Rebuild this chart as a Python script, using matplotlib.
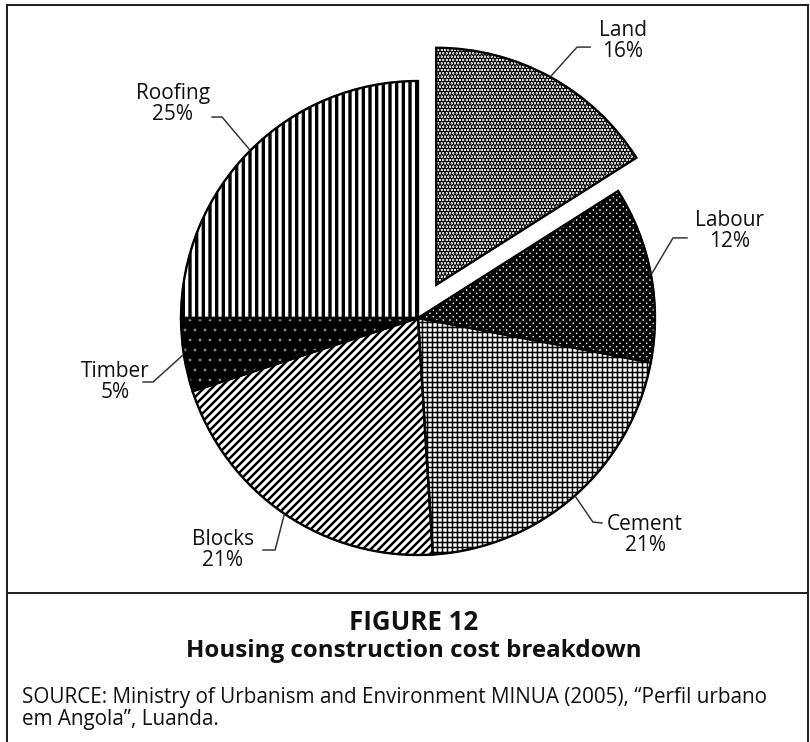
import matplotlib
matplotlib.use("Agg")
import matplotlib.pyplot as plt
from matplotlib.patches import Wedge
from matplotlib.lines import Line2D
import numpy as np

# ---- data ----
categories = ["Land", "Labour", "Cement", "Blocks", "Timber", "Roofing"]
shares = [16, 12, 21, 21, 5, 25]
pct_labels = ["16%", "12%", "21%", "21%", "5%", "25%"]
explode = [0.16, 0, 0, 0, 0, 0]

# ---- styles ----
hatches = ["......", "xxxxxx", "++++", "/////", "..", "|||"]
faces = ["white", "white", "white", "white", "black", "white"]
hatch_cols = ["black", "black", "black", "black", "#8a8a8a", "black"]
hatch_lws = [2.0, 1.9, 0.9, 1.5, 0.5, 2.0]

# label layout (data coords, pie radius = 1)
label_xy = [(0.865, 1.167), (1.316, 0.367), (0.958, -0.914), (-0.823, -0.979), (-1.278, -0.270), (-1.034, 0.903)]
elbow_xy = [(0.671, 1.143), (1.076, 0.338), (0.738, -0.861), (-0.603, -0.979), (-1.118, -0.270), (-0.827, 0.848)]
end_xy = [(0.726, 1.143), (1.135, 0.338), (0.776, -0.865), (-0.654, -0.979), (-1.160, -0.270), (-0.869, 0.848)]

W, H, DPI = 810, 742, 120
fig = plt.figure(figsize=(W / DPI, H / DPI), dpi=DPI)
fig.patch.set_facecolor("white")

cx, cy, R = 418, 318, 237
lim = 1.25
side = 2 * lim * R
ax = fig.add_axes([(cx - side / 2) / W, (H - cy - side / 2) / H, side / W, side / H])

wedges, _ = ax.pie(shares, explode=explode, startangle=90, counterclock=False,
                   wedgeprops=dict(linewidth=0.8))
ax.set_xlim(-lim, lim)
ax.set_ylim(-lim, lim)
ax.set_aspect("equal")
ax.axis("off")

for w, h, fc, hc, hlw in zip(wedges, hatches, faces, hatch_cols, hatch_lws):
    w.set_facecolor(fc)
    w.set_edgecolor(hc)
    w.set_hatch(h)
    if hasattr(w, "set_hatch_linewidth"):
        w.set_hatch_linewidth(hlw)
    # black outline on top
    ol = Wedge(w.center, w.r, w.theta1, w.theta2, fill=False, edgecolor="black",
               linewidth=1.4, zorder=w.get_zorder() + 0.5)
    ax.add_patch(ol)

lab_font = ["Open Sans", "DejaVu Sans"]
for w, cat, pct, lxy, exy, nxy in zip(wedges, categories, pct_labels, label_xy, elbow_xy, end_xy):
    mid = np.deg2rad((w.theta1 + w.theta2) / 2)
    sx = w.center[0] + w.r * 1.005 * np.cos(mid)
    sy = w.center[1] + w.r * 1.005 * np.sin(mid)
    ax.add_line(Line2D([sx, exy[0], nxy[0]], [sy, exy[1], nxy[1]], color="#333333",
                       linewidth=0.9, clip_on=False))
    ax.text(lxy[0], lxy[1], f"{cat}\n{pct}", ha="center", va="center", fontsize=12.5,
            family=lab_font, color="#111111", linespacing=1.0, clip_on=False)

# frame lines
def fline(x0, y0, x1, y1, lw=1.2):
    fig.add_artist(Line2D([x0 / W, x1 / W], [1 - y0 / H, 1 - y1 / H], color="#222222",
                          linewidth=lw, transform=fig.transFigure))

fline(7, 5, 808, 5)
fline(7, 5, 7, 742)
fline(808, 5, 808, 742)
fline(7, 593, 808, 593)

title_font = ["Open Sans", "DejaVu Sans"]
fig.text(414 / W, 1 - 622 / H, "FIGURE 12", ha="center", va="center", fontsize=15.5,
         fontweight="bold", family=title_font, color="#111111")
fig.text(414 / W, 1 - 651 / H, "Housing construction cost breakdown", ha="center", va="center",
         fontsize=14.5, fontweight="bold", family=title_font, color="#111111")
src_font = ["Open Sans", "DejaVu Sans"]
fig.text(22 / W, 1 - 697 / H, "SOURCE: Ministry of Urbanism and Environment MINUA (2005), \u201cPerfil urbano",
         ha="left", va="center", fontsize=12.4, family=src_font, color="#111111")
fig.text(22 / W, 1 - 720 / H, "em Angola\u201d, Luanda.",
         ha="left", va="center", fontsize=12.4, family=src_font, color="#111111")

fig.savefig("out.png", dpi=DPI, facecolor="white")
